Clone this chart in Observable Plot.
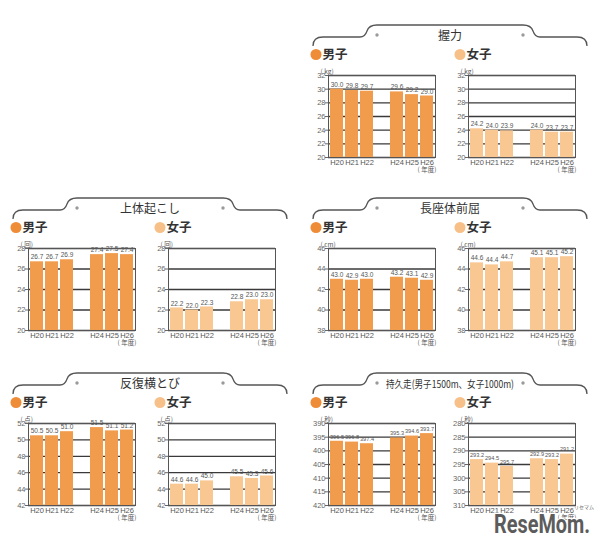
<!DOCTYPE html>
<html><head><meta charset="utf-8">
<script src="https://cdn.jsdelivr.net/npm/d3@7"></script>
<script src="https://cdn.jsdelivr.net/npm/@observablehq/plot@0.6"></script>
<style>
body{margin:0;background:#fff;font-family:"Noto Sans CJK JP","Noto Sans",sans-serif;}
#root{position:relative;width:604px;height:541px;overflow:hidden;background:#fff;}
.sec{position:absolute;width:300px;height:175px;}
.sec svg{overflow:visible;}
</style></head>
<body><div id="root"></div>
<script>
// ---- data ----
const years = ["H20","H21","H22","H24","H25","H26"];
const xDomain = ["H20","H21","H22","","H24","H25","H26"];
const titles = ["握力","上体起こし","長座体前屈","反復横とび","持久走(男子1500m、女子1000m)"];
const units = ["( kg)","( 回)","( cm)","( 点)","( 秒)"];
const gripBoys = [30.0,29.8,29.7,29.6,29.2,29.0];
const gripGirls = [24.2,24.0,23.9,24.0,23.7,23.7];
const situpBoys = [26.7,26.7,26.9,27.4,27.5,27.4];
const situpGirls = [22.2,22.0,22.3,22.8,23.0,23.0];
const reachBoys = [43.0,42.9,43.0,43.2,43.1,42.9];
const reachGirls = [44.6,44.4,44.7,45.1,45.1,45.2];
const sideBoys = [50.5,50.5,51.0,51.5,51.1,51.2];
const sideGirls = [44.6,44.6,45.0,45.5,45.3,45.6];
const runBoys = [396.5,396.8,397.4,395.3,394.6,393.7];
const runGirls = [293.2,294.5,295.7,292.9,293.2,291.2];
const gripTicks = [20,22,24,26,28,30,32];
const situpTicks = [20,22,24,26,28];
const reachTicks = [38,40,42,44,46];
const sideTicks = [42,44,46,48,50,52];
const runBoysTicks = [390,395,400,405,410,415,420];
const runGirlsTicks = [280,285,290,295,300,305,310];
const yearUnit = "( 年度)";
const genders = ["男子","女子"];

// ---- layout / style ----
const BOY = "#f19b4c", GIRL = "#f8c792", BOYDOT = "#ee8c38", GIRLDOT = "#f7c088";
const origins = [[300,20],[0,193],[300,193],[0,368],[300,368]];
const panels = [
  {boys:gripBoys, girls:gripGirls, tb:gripTicks, tg:gripTicks, rev:false},
  {boys:situpBoys, girls:situpGirls, tb:situpTicks, tg:situpTicks, rev:false},
  {boys:reachBoys, girls:reachGirls, tb:reachTicks, tg:reachTicks, rev:false},
  {boys:sideBoys, girls:sideGirls, tb:sideTicks, tg:sideTicks, rev:false},
  {boys:runBoys, girls:runGirls, tb:runBoysTicks, tg:runGirlsTicks, rev:true}
];
const FONT = '"Noto Sans CJK JP","Noto Sans",sans-serif';
const NUMFONT = '"Liberation Sans",Arial,sans-serif';

function chart(values, ticks, rev, color, unit) {
  const data = years.map((x,i)=>({x, v: values[i]}));
  const lo = d3.min(ticks), hi = d3.max(ticks);
  const base = rev ? hi : lo;
  const labelSize = hi >= 100 ? 5.6 : 6.5;
  return Plot.plot({
    width: 137, height: 120,
    marginLeft: 25, marginRight: 5, marginTop: 14, marginBottom: 24,
    style: {fontFamily: NUMFONT, color:"#555", background:"transparent", overflow:"visible"},
    x: {domain: xDomain, paddingInner: 0.13, paddingOuter: 0.04, label: null},
    y: {domain: [lo, hi], reverse: rev, label: null},
    marks: [
      Plot.ruleY(ticks, {stroke:"#3a3a3a", strokeWidth:1.3}),
      Plot.barY(data, {x:"x", y1: base, y2:"v", fill: color}),
      Plot.frame({stroke:"#555", strokeWidth:1}),
      Plot.axisY({ticks, tickSize:3, tickPadding:0, fontSize:7.5, fill:"#666", stroke:"#666", label:null}),
      Plot.axisX({ticks: years, tickSize:0, tickPadding:2, fontSize:7.5, fill:"#555", label:null}),
      Plot.text(data, {x:"x", y:"v", text: d=>d.v.toFixed(1), dy:-4.5, fontSize:labelSize, fill:"#555"}),
      Plot.text([unit], {text:d=>d, frameAnchor:"top-left", dx:-8, dy:-6, fontSize:6.5, textAnchor:"start", fill:"#555", fontFamily: FONT}),
      Plot.text([yearUnit], {text:d=>d, x:["H26"], frameAnchor:"bottom", dy:14, fontSize:6.5, fill:"#555", fontFamily: FONT})
    ]
  });
}

const root = document.getElementById("root");
panels.forEach((p, i) => {
  const [ox, oy] = origins[i];
  const div = document.createElement("div");
  div.className = "sec";
  div.style.left = ox + "px"; div.style.top = oy + "px";
  const long = titles[i].length > 8;
  div.innerHTML = `<svg width="300" height="50" style="position:absolute;left:0;top:0">
    <path d="M13,26 Q13,17 23,17 L60,17 Q65,17 67,11 Q69,5 77,5 L223,5 Q231,5 233,11 Q235,17 240,17 L277,17 Q287,17 287,26" fill="none" stroke="#555" stroke-width="1.3"/>
    <circle cx="77" cy="15" r="1.7" fill="#9a9a9a"/><circle cx="223" cy="15" r="1.7" fill="#9a9a9a"/>
    <text x="150" y="19.5" text-anchor="middle" font-size="${long?10.5:12}" fill="#333" font-family='${FONT}' ${long?'textLength="128" lengthAdjust="spacingAndGlyphs"':''}>${titles[i]}</text>
    <circle cx="16" cy="34.5" r="5.5" fill="${BOYDOT}"/>
    <text x="22.5" y="39" font-size="12.5" font-weight="bold" fill="#333" font-family='${FONT}'>${genders[0]}</text>
    <circle cx="160" cy="34.5" r="5.5" fill="${GIRLDOT}"/>
    <text x="166.5" y="39" font-size="12.5" font-weight="bold" fill="#333" font-family='${FONT}'>${genders[1]}</text>
  </svg>`;
  const b = chart(p.boys, p.tb, p.rev, BOY, units[i]);
  b.style.position = "absolute"; b.style.left = "3px"; b.style.top = "41px";
  const g = chart(p.girls, p.tg, p.rev, GIRL, units[i]);
  g.style.position = "absolute"; g.style.left = "143px"; g.style.top = "41px";
  div.appendChild(b); div.appendChild(g);
  root.appendChild(div);
});

// watermark
const wm = document.createElement("div");
wm.style.cssText = "position:absolute;left:490px;top:500px;";
wm.innerHTML = `<svg width="110" height="40" style="overflow:visible">
  <text x="84" y="9" font-size="5" fill="#666" font-family='${FONT}'>リセマム</text>
  <text x="4" y="33" font-size="25" font-weight="bold" fill="#5c5c5c" stroke="#fff" stroke-width="2.5" paint-order="stroke" font-family="Roboto, sans-serif" textLength="96" lengthAdjust="spacingAndGlyphs">ReseMom.</text>
</svg>`;
root.appendChild(wm);
</script>
</body></html>
